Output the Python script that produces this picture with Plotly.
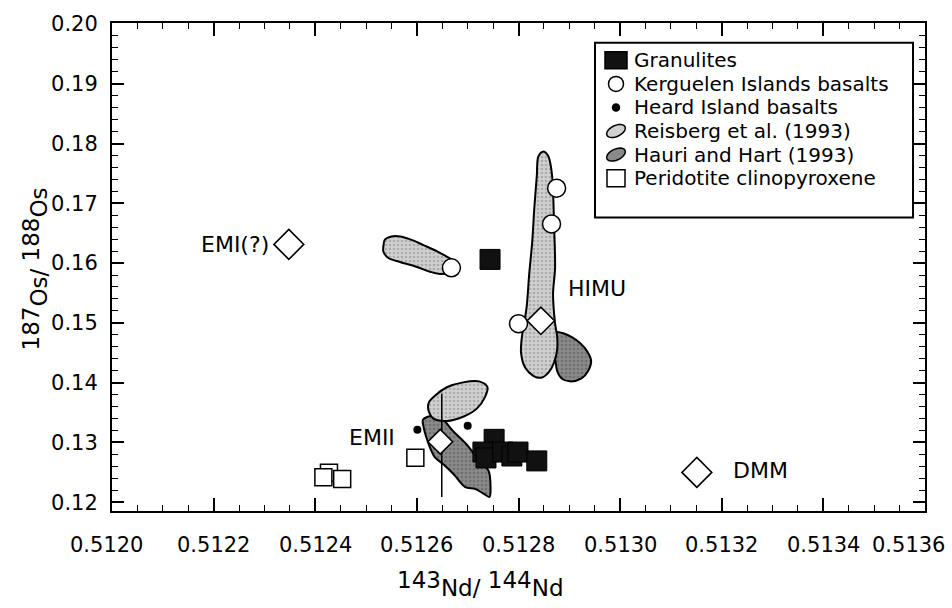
import math
import plotly.graph_objects as go

# ---------------- data ----------------
# Granulites (143Nd/144Nd, 187Os/188Os)
granulite_nd = [0.512744, 0.512752, 0.512730, 0.512736, 0.512769, 0.512787, 0.512799, 0.512836]
granulite_os = [0.16061, 0.13051, 0.12838, 0.12739, 0.12838, 0.12772, 0.12838, 0.12690]

# Kerguelen Islands basalts
kerguelen_nd = [0.512668, 0.512875, 0.512865, 0.512800]
kerguelen_os = [0.15921, 0.17252, 0.16654, 0.14985]

# Heard Island basalts
heard_nd = [0.512601, 0.512700]
heard_os = [0.13211, 0.13278]

# Peridotite clinopyroxene
peridotite_nd = [0.512427, 0.512416, 0.512453, 0.512597]
peridotite_os = [0.12493, 0.12416, 0.12389, 0.12744]

# Mantle end-members
member_names = ["EMI(?)", "HIMU", "EMII", "DMM"]
member_nd = [0.512348, 0.512844, 0.512646, 0.513151]
member_os = [0.16312, 0.15034, 0.13010, 0.12498]

# Reisberg et al. (1993) fields
reisberg_a_nd = [0.512534, 0.512537, 0.512550, 0.512567, 0.512586, 0.512613, 0.512639, 0.512665,
                 0.512682, 0.512681, 0.512649, 0.512626, 0.512600, 0.512567, 0.512544, 0.512534]
reisberg_a_os = [0.16276, 0.16390, 0.16445, 0.16445, 0.16400, 0.16300, 0.16200, 0.16078,
                 0.15987, 0.15877, 0.15815, 0.15855, 0.15935, 0.16018, 0.16085, 0.16194]

reisberg_b_nd = [0.512848, 0.512858, 0.512863, 0.512867, 0.512870, 0.512872, 0.512868, 0.512872,
                 0.512876, 0.512876, 0.512870, 0.512859, 0.512844, 0.512829, 0.512813, 0.512805,
                 0.512806, 0.512816, 0.512821, 0.512827, 0.512831, 0.512836, 0.512839]
reisberg_b_os = [0.17864, 0.17799, 0.17651, 0.17372, 0.16632, 0.15921, 0.15483, 0.14990,
                 0.14771, 0.14551, 0.14333, 0.14168, 0.14081, 0.14114, 0.14251, 0.14497,
                 0.14715, 0.15264, 0.15811, 0.16358, 0.16907, 0.17454, 0.17782]

reisberg_c_nd = [0.512622, 0.512632, 0.512659, 0.512691, 0.512718, 0.512734, 0.512739, 0.512724,
                 0.512691, 0.512659, 0.512636, 0.512624]
reisberg_c_os = [0.13565, 0.13401, 0.13359, 0.13429, 0.13565, 0.13758, 0.13922, 0.14016,
                 0.14004, 0.13922, 0.13786, 0.13676]

# Hauri and Hart (1993) fields
hauri_a_nd = [0.512862, 0.512874, 0.512888, 0.512905, 0.512921, 0.512935, 0.512943, 0.512937,
              0.512924, 0.512901, 0.512885, 0.512876, 0.512872, 0.512862]
hauri_a_os = [0.14858, 0.14853, 0.14826, 0.14760, 0.14661, 0.14525, 0.14361, 0.14196,
              0.14070, 0.14021, 0.14070, 0.14196, 0.14387, 0.14579]

hauri_b_nd = [0.512612, 0.512630, 0.512649, 0.512672, 0.512698, 0.512718, 0.512741, 0.512745,
              0.512743, 0.512731, 0.512714, 0.512695, 0.512672, 0.512652, 0.512636, 0.512626,
              0.512619, 0.512613]
hauri_b_os = [0.13380, 0.13446, 0.13396, 0.13183, 0.12964, 0.12744, 0.12526, 0.12252,
              0.12087, 0.12143, 0.12225, 0.12252, 0.12472, 0.12636, 0.12744, 0.12908,
              0.13073, 0.13265]

# Vertical tie line through the EMII field
tie_nd = [0.512649, 0.512649]
tie_os = [0.13815, 0.12085]

# Axis ticks
x_ticks = [0.5120, 0.5122, 0.5124, 0.5126, 0.5128, 0.5130, 0.5132, 0.5134, 0.5136]
y_ticks = [0.12, 0.13, 0.14, 0.15, 0.16, 0.17, 0.18, 0.19, 0.20]

# Legend entries
legend_labels = ["Granulites", "Kerguelen Islands basalts", "Heard Island basalts",
                 "Reisberg et al. (1993)", "Hauri and Hart (1993)", "Peridotite clinopyroxene"]

# ---------------- styling ----------------
FONT = "DejaVu Sans"
LIGHT = "#d0d0d0"
DARK = "#8a8a8a"
W, H = 952, 608
ML, MR, MT, MB = 112, 27, 14, 97
PW, PH = W - ML - MR, H - MT - MB

fig = go.Figure()


def add_field(xs, ys, color, fg):
    fig.add_trace(go.Scatter(
        x=xs + xs[:1], y=ys + ys[:1], mode="lines", fill="toself",
        fillcolor=color,
        fillpattern=dict(shape=".", bgcolor=color, fgcolor=fg, size=4, solidity=0.35),
        line=dict(color="black", width=2, shape="spline", smoothing=0.9),
        showlegend=False, hoverinfo="skip"))


add_field(hauri_a_nd, hauri_a_os, DARK, "#555555")
add_field(reisberg_b_nd, reisberg_b_os, LIGHT, "#858585")
add_field(reisberg_a_nd, reisberg_a_os, LIGHT, "#858585")
add_field(hauri_b_nd, hauri_b_os, DARK, "#555555")
add_field(reisberg_c_nd, reisberg_c_os, LIGHT, "#858585")

fig.add_trace(go.Scatter(x=tie_nd, y=tie_os, mode="lines",
                         line=dict(color="black", width=1.5),
                         showlegend=False, hoverinfo="skip"))

fig.add_trace(go.Scatter(
    x=peridotite_nd, y=peridotite_os, mode="markers", showlegend=False,
    marker=dict(symbol="square", size=17, color="white", opacity=1,
                line=dict(color="black", width=1.5))))

fig.add_trace(go.Scatter(
    x=heard_nd, y=heard_os, mode="markers", showlegend=False,
    marker=dict(symbol="circle", size=8, color="black", opacity=1)))

fig.add_trace(go.Scatter(
    x=granulite_nd, y=granulite_os, mode="markers", showlegend=False,
    marker=dict(symbol="square", size=20, color="#111111", opacity=1,
                line=dict(color="black", width=1))))

fig.add_trace(go.Scatter(
    x=kerguelen_nd, y=kerguelen_os, mode="markers", showlegend=False,
    marker=dict(symbol="circle", size=18, color="white", opacity=1,
                line=dict(color="black", width=1.5))))

fig.add_trace(go.Scatter(
    x=member_nd, y=member_os, mode="markers", showlegend=False, hoverinfo="skip",
    marker=dict(symbol="diamond", size=[23, 21, 19, 23], color="white", opacity=1,
                line=dict(color="black", width=1.6))))

# end-member labels
label_style = {
    "EMI(?)": dict(xanchor="right", xshift=-18, yshift=0),
    "HIMU": dict(xanchor="left", xshift=25, yshift=32),
    "EMII": dict(xanchor="right", xshift=-43, yshift=4),
    "DMM": dict(xanchor="left", xshift=34, yshift=2),
}
annotations = []
for name, xv, yv in zip(member_names, member_nd, member_os):
    annotations.append(dict(x=xv, y=yv, xref="x", yref="y", text=name, showarrow=False,
                            yanchor="middle", font=dict(family=FONT, size=22, color="black"),
                            **label_style[name]))

# x tick labels
for i, t in enumerate(x_ticks):
    last = i == len(x_ticks) - 1
    annotations.append(dict(x=t, y=0, xref="x", yref="paper", text=f"{t:.4f}",
                            showarrow=False, yanchor="top", yshift=-20,
                            xanchor="right" if last else "center",
                            xshift=22 if last else (-6 if i == 0 else 0),
                            font=dict(family=FONT, size=21, color="black")))

# axis titles: mass numbers raised on the baseline
iso = "<span style='baseline-shift:8px'>{}</span>"
annotations.append(dict(
    x=(480 - ML) / PW, y=(PH + MT - 585) / PH, xref="paper", yref="paper", showarrow=False,
    text=f"{iso.format('143')}Nd/ {iso.format('144')}Nd",
    font=dict(family=FONT, size=23, color="black"), xanchor="center", yanchor="middle"))
annotations.append(dict(
    x=(35 - ML) / PW, y=(PH + MT - 265) / PH, xref="paper", yref="paper", showarrow=False,
    textangle=-90,
    text=f"{iso.format('187')}Os/ {iso.format('188')}Os",
    font=dict(family=FONT, size=23, color="black"), xanchor="center", yanchor="middle"))


# ---------------- legend box (drawn in pixel units) ----------------
def px_x(px):
    return (px - ML) / PW


def px_y(py):
    return (PH + MT - py) / PH


shapes = [dict(type="rect", xref="paper", yref="paper",
               x0=px_x(595), x1=px_x(913), y0=px_y(212), y1=px_y(34),
               line=dict(color="black", width=2), fillcolor="white", layer="above")]


def ellipse_path(rx, ry, tilt_deg):
    th = math.radians(tilt_deg)
    pts = []
    for k in range(0, 360, 15):
        t = math.radians(k)
        ex, ey = rx * math.cos(t), ry * math.sin(t)
        pts.append((ex * math.cos(th) - ey * math.sin(th), ex * math.sin(th) + ey * math.cos(th)))
    return "M" + " L".join(f"{a:.2f},{b:.2f}" for a, b in pts) + " Z"


icon_x = px_x(616)
row_top, row_gap = 52, 24
icons = [
    dict(type="rect", w=22, h=17, fill="#111111"),
    dict(type="circle", w=15, h=15, fill="white"),
    dict(type="circle", w=7, h=7, fill="black"),
    dict(type="path", fill=LIGHT),
    dict(type="path", fill=DARK),
    dict(type="rect", w=18, h=17, fill="white"),
]
for i, (label, ic) in enumerate(zip(legend_labels, icons)):
    ry = px_y(row_top + i * row_gap)
    base = dict(xref="paper", yref="paper", xsizemode="pixel", ysizemode="pixel",
                xanchor=icon_x, yanchor=ry, fillcolor=ic["fill"], layer="above",
                line=dict(color="black", width=1.5))
    if ic["type"] == "path":
        shapes.append(dict(type="path", path=ellipse_path(10, 5.5, 25), **base))
    else:
        shapes.append(dict(type=ic["type"], x0=-ic["w"] / 2, x1=ic["w"] / 2,
                           y0=-ic["h"] / 2, y1=ic["h"] / 2, **base))
    annotations.append(dict(x=px_x(632), y=ry, xref="paper", yref="paper", text=label,
                            showarrow=False, xanchor="left", yanchor="middle",
                            font=dict(family=FONT, size=20, color="black")))

axis_common = dict(showline=True, linewidth=2, linecolor="black", mirror="allticks",
                   ticks="inside", tickwidth=1.5, tickcolor="black",
                   showgrid=False, zeroline=False)

fig.update_layout(
    width=W, height=H,
    margin=dict(l=ML, r=MR, t=MT, b=MB),
    paper_bgcolor="white", plot_bgcolor="white",
    xaxis=dict(range=[0.5120, 0.5136], tickvals=x_ticks, showticklabels=False, ticklen=13,
               minor=dict(dtick=0.00005, ticks="inside", ticklen=6, tickwidth=1.2, tickcolor="black"),
               **axis_common),
    yaxis=dict(range=[0.11852, 0.20016], tickvals=y_ticks, tickformat=".2f", ticklen=12,
               ticklabelstandoff=8,
               tickfont=dict(family=FONT, size=21, color="black"),
               minor=dict(dtick=0.002, ticks="inside", ticklen=6, tickwidth=1.2, tickcolor="black"),
               **axis_common),
    annotations=annotations,
    shapes=shapes,
    showlegend=False,
)

fig.write_html("out.html")
